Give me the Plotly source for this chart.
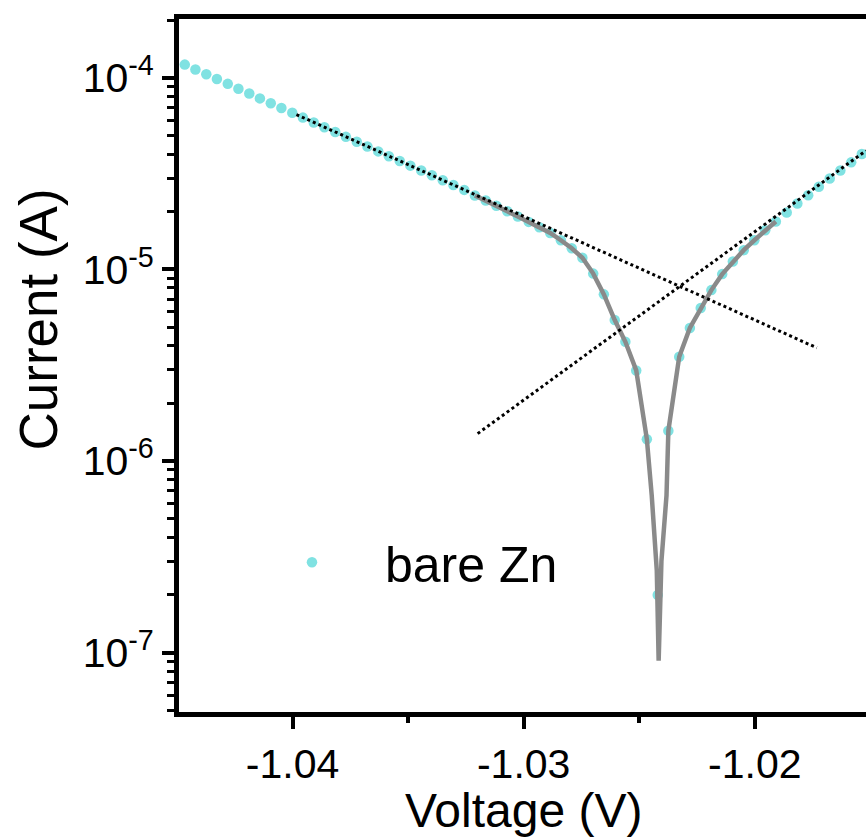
import plotly.graph_objects as go

# Measured data (bare Zn) : voltage (V) and |current| (A)
voltage = [-1.04466, -1.04420, -1.04373, -1.04327, -1.04280, -1.04234, -1.04187, -1.04141,
           -1.04094, -1.04048, -1.04001, -1.03955, -1.03908, -1.03862, -1.03815, -1.03769,
           -1.03722, -1.03676, -1.03629, -1.03583, -1.03536, -1.03490, -1.03443, -1.03397,
           -1.03350, -1.03304, -1.03257, -1.03211, -1.03164, -1.03118, -1.03071, -1.03025,
           -1.02978, -1.02932, -1.02885, -1.02839, -1.02792, -1.02746, -1.02699, -1.02653,
           -1.02606, -1.02560, -1.02513, -1.02467, -1.02420, -1.02374, -1.02327, -1.02281,
           -1.02234, -1.02188, -1.02141, -1.02095, -1.02048, -1.02002, -1.01955, -1.01909,
           -1.01862, -1.01816, -1.01769, -1.01723, -1.01676, -1.01630, -1.01583, -1.01537]
current = [1.172e-4, 1.106e-4, 1.043e-4, 9.85e-5, 9.30e-5, 8.77e-5, 8.28e-5, 7.81e-5,
           7.37e-5, 6.96e-5, 6.57e-5, 6.20e-5, 5.85e-5, 5.52e-5, 5.21e-5, 4.92e-5,
           4.64e-5, 4.38e-5, 4.13e-5, 3.90e-5, 3.68e-5, 3.48e-5, 3.28e-5, 3.10e-5,
           2.92e-5, 2.76e-5, 2.60e-5, 2.43e-5, 2.29e-5, 2.15e-5, 2.01e-5, 1.89e-5,
           1.77e-5, 1.66e-5, 1.55e-5, 1.42e-5, 1.29e-5, 1.15e-5, 9.51e-6, 7.41e-6,
           5.44e-6, 4.19e-6, 2.97e-6, 1.30e-6, 2.0e-7, 1.44e-6, 3.50e-6, 4.95e-6,
           6.29e-6, 7.80e-6, 9.45e-6, 1.10e-5, 1.26e-5, 1.42e-5, 1.60e-5, 1.78e-5,
           1.98e-5, 2.21e-5, 2.44e-5, 2.70e-5, 2.98e-5, 3.28e-5, 3.62e-5, 4.00e-5]

# Fitted curve (grey)
fit_voltage = [-1.03211, -1.03164, -1.03118, -1.03071, -1.03025, -1.02978, -1.02932, -1.02885,
               -1.02839, -1.02792, -1.02746, -1.02699, -1.02653, -1.02606, -1.02560, -1.02513,
               -1.02467, -1.02446, -1.02424, -1.02416, -1.02404, -1.02382, -1.02374, -1.02327,
               -1.02281, -1.02234, -1.02188, -1.02141, -1.02095, -1.02048, -1.02002, -1.01955,
               -1.01909]
fit_current = [2.43e-5, 2.29e-5, 2.15e-5, 2.01e-5, 1.89e-5, 1.77e-5, 1.66e-5, 1.55e-5,
               1.42e-5, 1.29e-5, 1.15e-5, 9.51e-6, 7.41e-6, 5.44e-6, 4.19e-6, 2.97e-6,
               1.30e-6, 6.62e-7, 2.67e-7, 9.08e-8, 3.00e-7, 6.62e-7, 1.44e-6, 3.50e-6,
               4.95e-6, 6.29e-6, 7.80e-6, 9.45e-6, 1.10e-5, 1.26e-5, 1.42e-5, 1.60e-5,
               1.78e-5]

# Tafel extrapolation lines (endpoints)
cath_v = [-1.03983, -1.01732]
cath_i = [6.43e-5, 3.90e-6]
anod_v = [-1.03199, -1.01519]
anod_i = [1.39e-6, 4.17e-5]

y_tickvals = [1e-4, 1e-5, 1e-6, 1e-7]
y_ticktext = ["10<sup>-4</sup>", "10<sup>-5</sup>", "10<sup>-6</sup>", "10<sup>-7</sup>"]
y_minor = [m * 10.0 ** e for e in (-8, -7, -6, -5, -4) for m in (2, 3, 4, 5, 6, 7, 8, 9)]
x_tickvals = [-1.04, -1.03, -1.02]
x_ticktext = ["-1.04", "-1.03", "-1.02"]
x_minor = [-1.045, -1.035, -1.025, -1.015]

x_title = "Voltage (V)"
y_title = "Current (A)"

FONT = "Liberation Sans, Arial, sans-serif"

fig = go.Figure()
fig.add_trace(go.Scatter(x=voltage, y=current, mode="markers", name="bare Zn",
                         marker=dict(color="#80E2E2", size=10.5, symbol="circle"),
                         showlegend=True))
fig.add_trace(go.Scatter(x=fit_voltage, y=fit_current, mode="lines",
                         line=dict(color="#8A8A8A", width=4.5), showlegend=False))
fig.add_trace(go.Scatter(x=cath_v, y=cath_i, mode="lines",
                         line=dict(color="black", width=3, dash="dot"), showlegend=False))
fig.add_trace(go.Scatter(x=anod_v, y=anod_i, mode="lines",
                         line=dict(color="black", width=3, dash="dot"), showlegend=False))

fig.update_layout(
    width=866, height=838,
    margin=dict(l=179, r=0, t=19, b=126),
    paper_bgcolor="white", plot_bgcolor="white",
    font=dict(family=FONT, color="black", size=41),
    showlegend=True,
    legend=dict(x=0.0873, y=0.216, xanchor="left", yanchor="middle",
                font=dict(size=50, family=FONT), itemwidth=136,
                bgcolor="rgba(0,0,0,0)"),
    annotations=[
        dict(text=x_title, xref="paper", yref="paper", x=0.502, y=-0.1415,
             xanchor="center", yanchor="middle", showarrow=False,
             font=dict(size=48, family=FONT, color="black")),
        dict(text=y_title, xref="paper", yref="paper", x=-0.2052, y=0.5664,
             xanchor="center", yanchor="middle", showarrow=False, textangle=-90,
             font=dict(size=53, family=FONT, color="black")),
    ],
)
fig.update_xaxes(
    range=[-1.04491, -1.01519],
    tickmode="array", tickvals=x_tickvals, ticktext=x_ticktext,
    ticks="outside", ticklen=12, tickwidth=4, tickcolor="black",
    minor=dict(tickmode="array", tickvals=x_minor, ticks="outside", ticklen=6,
               tickwidth=4, tickcolor="black", showgrid=False),
    showline=True, linewidth=5, linecolor="black", mirror=True,
    showgrid=False, zeroline=False,
    tickfont=dict(size=41),
)
fig.update_yaxes(
    type="log", range=[-7.310, -3.693],
    tickmode="array", tickvals=y_tickvals, ticktext=y_ticktext,
    ticks="outside", ticklen=12, tickwidth=4, tickcolor="black",
    minor=dict(tickmode="array", tickvals=y_minor, ticks="outside", ticklen=7,
               tickwidth=3, tickcolor="black", showgrid=False),
    showline=True, linewidth=5, linecolor="black", mirror=False,
    showgrid=False, zeroline=False,
    tickfont=dict(size=41),
)

fig.write_html("out.html")
